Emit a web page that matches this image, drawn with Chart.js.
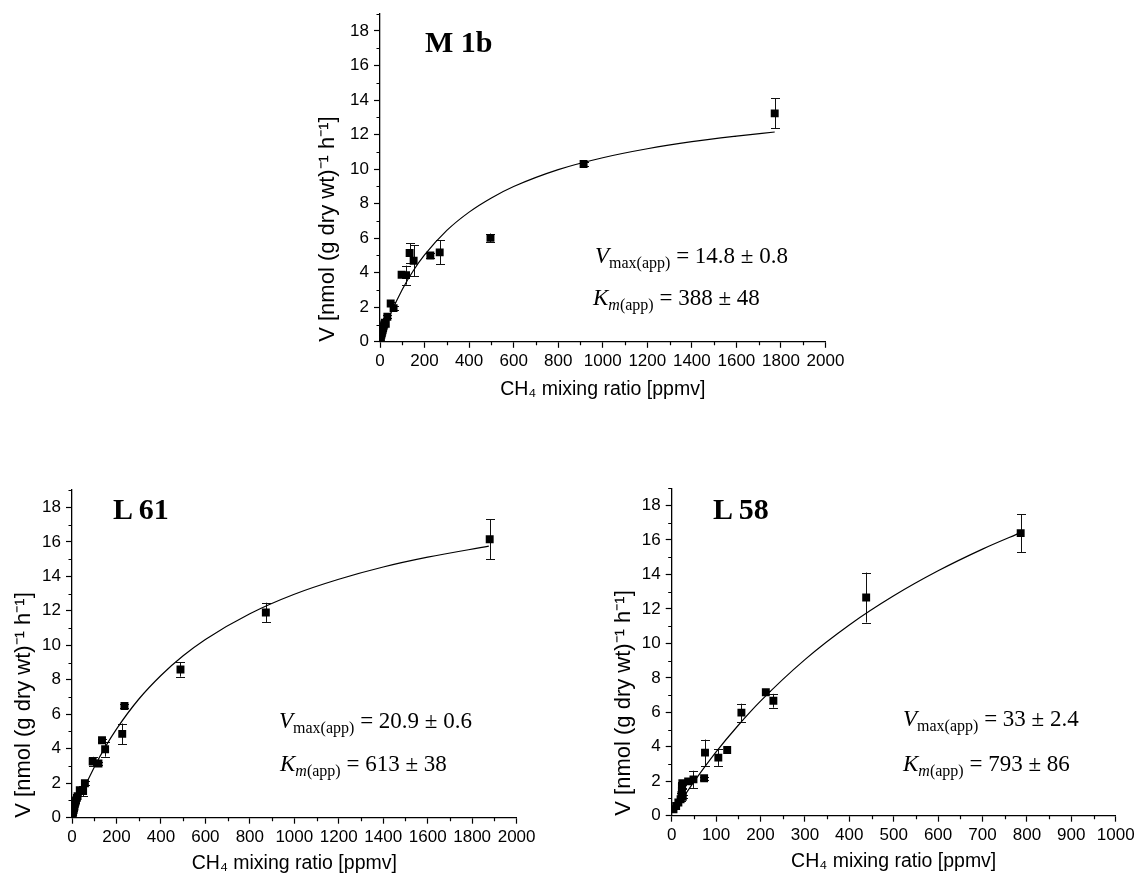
<!DOCTYPE html>
<html><head><meta charset="utf-8">
<script src="https://cdn.jsdelivr.net/npm/chart.js@4.4.1/dist/chart.umd.min.js"></script>
<style>
html,body{margin:0;padding:0;background:#fff;}
body{width:1146px;height:882px;position:relative;overflow:hidden;}
canvas{position:absolute;}
.lbl{position:absolute;font-family:"Liberation Serif","Times New Roman",serif;font-weight:bold;font-size:30px;line-height:30px;color:#000;white-space:nowrap;}
.ann{position:absolute;font-family:"Liberation Serif","Times New Roman",serif;font-size:23px;line-height:23px;color:#000;white-space:nowrap;}
.ann i{font-style:italic;}
.ann sub{font-size:16px;line-height:0;vertical-align:baseline;position:relative;top:5px;}
</style></head><body>
<canvas id="c1"></canvas>
<canvas id="c2"></canvas>
<canvas id="c3"></canvas>
<div class="lbl" style="left:425px;top:27px">M 1b</div>
<div class="lbl" style="left:113px;top:494px">L 61</div>
<div class="lbl" style="left:713px;top:494px">L 58</div>
<div class="ann" style="left:595px;top:244px"><i>V</i><sub>max(app)</sub> = 14.8 ± 0.8</div>
<div class="ann" style="left:593px;top:286px"><i>K</i><sub><i>m</i>(app)</sub> = 388 ± 48</div>
<div class="ann" style="left:279px;top:709px"><i>V</i><sub>max(app)</sub> = 20.9 ± 0.6</div>
<div class="ann" style="left:280px;top:752px"><i>K</i><sub><i>m</i>(app)</sub> = 613 ± 38</div>
<div class="ann" style="left:903px;top:707px"><i>V</i><sub>max(app)</sub> = 33 ± 2.4</div>
<div class="ann" style="left:903px;top:752px"><i>K</i><sub><i>m</i>(app)</sub> = 793 ± 86</div>
<script>
// ---------- data: M 1b ----------
const m1bX   = [2, 4, 6, 8, 10, 12, 14, 16, 19, 22, 26, 33, 48, 61, 97, 117, 133, 151, 226, 268, 496, 914, 1772];
const m1bY   = [0.1, 0.25, 0.4, 0.5, 0.6, 0.7, 0.8, 0.9, 1.0, 1.1, 1.05, 1.45, 2.22, 1.95, 3.88, 3.86, 5.14, 4.69, 5.0, 5.18, 6.02, 10.3, 13.23];
const m1bErr = [0, 0, 0, 0, 0, 0, 0, 0, 0, 0, 0, 0.1, 0.1, 0.1, 0.1, 0.55, 0.57, 0.9, 0.15, 0.7, 0.25, 0.1, 0.87];
const m1bFitX = [5, 25, 50, 100, 150, 200, 300, 400, 500, 600, 800, 1000, 1200, 1400, 1600, 1772];
const m1bFitY = [0.19, 0.9, 1.69, 3.03, 4.13, 5.03, 6.45, 7.51, 8.33, 8.99, 9.97, 10.66, 11.18, 11.59, 11.91, 12.15];

// ---------- data: L 61 ----------
const l61X   = [3, 5, 7, 9, 11, 13, 15, 18, 22, 25, 35, 50, 58, 93, 119, 135, 149, 226, 236, 488, 872, 1879];
const l61Y   = [0.15, 0.3, 0.45, 0.55, 0.65, 0.8, 0.9, 1.0, 1.15, 1.25, 1.6, 1.55, 2.0, 3.26, 3.14, 4.49, 3.97, 4.86, 6.48, 8.6, 11.9, 16.15];
const l61Err = [0, 0, 0, 0, 0, 0, 0, 0, 0, 0, 0.1, 0.3, 0.1, 0.27, 0.1, 0.1, 0.43, 0.6, 0.1, 0.42, 0.57, 1.17];
const l61FitX = [5, 25, 50, 100, 150, 200, 300, 400, 500, 600, 800, 1000, 1200, 1400, 1600, 1875];
const l61FitY = [0.17, 0.82, 1.58, 2.93, 4.11, 5.14, 6.87, 8.25, 9.39, 10.34, 11.83, 12.96, 13.83, 14.54, 15.11, 15.75];

// ---------- data: L 58 ----------
const l58X   = [4, 10, 15, 20, 22, 23, 23, 24, 25, 37, 49, 73, 75, 105, 125, 157, 212, 229, 438, 786];
const l58Y   = [0.37, 0.56, 0.77, 0.95, 1.2, 1.45, 1.68, 1.88, 1.1, 1.99, 2.11, 2.17, 3.66, 3.37, 3.81, 5.98, 7.16, 6.67, 12.66, 16.4];
const l58Err = [0, 0, 0, 0.1, 0.1, 0.1, 0.1, 0.1, 0.1, 0.1, 0.5, 0.1, 0.76, 0.48, 0, 0.52, 0.1, 0.4, 1.45, 1.1];
const l58FitX = [5, 25, 50, 100, 150, 200, 300, 400, 500, 600, 700, 790];
const l58FitY = [0.21, 1.01, 1.96, 3.7, 5.25, 6.65, 9.06, 11.07, 12.76, 14.21, 15.47, 16.47];

// ---------- axis labels ----------
const xTitleText = 'CH\u2084 mixing ratio [ppmv]';
const yTitleText = 'V [nmol (g dry wt)\u207B\u00B9 h\u207B\u00B9]';

const FONT = "'Liberation Sans', Arial, Helvetica, sans-serif";

const errorBars = {
  id: 'errorBars',
  beforeDatasetsDraw(chart) {
    const ds = chart.data.datasets[0];
    const xs = chart.scales.x, ys = chart.scales.y, ctx = chart.ctx;
    ctx.save();
    ctx.strokeStyle = '#111'; ctx.lineWidth = 1;
    ds.data.forEach((p, i) => {
      const e = ds.errors[i];
      if (!e) return;
      const px = Math.round(xs.getPixelForValue(p.x)) + 0.5;
      const y1 = ys.getPixelForValue(p.y - e), y2 = ys.getPixelForValue(p.y + e);
      ctx.beginPath();
      ctx.moveTo(px, y1); ctx.lineTo(px, y2);
      ctx.moveTo(px - 4.5, Math.round(y1) + 0.5); ctx.lineTo(px + 4.5, Math.round(y1) + 0.5);
      ctx.moveTo(px - 4.5, Math.round(y2) + 0.5); ctx.lineTo(px + 4.5, Math.round(y2) + 0.5);
      ctx.stroke();
    });
    ctx.restore();
  }
};

const minorTicks = {
  id: 'minorTicks',
  afterDraw(chart) {
    const o = chart.options.plugins.minorTicks;
    const xs = chart.scales.x, ys = chart.scales.y, ctx = chart.ctx;
    ctx.save();
    ctx.strokeStyle = '#000'; ctx.lineWidth = 1.2;
    ctx.beginPath();
    for (let v = o.x; v < xs.max; v += 2 * o.x) {
      const px = Math.round(xs.getPixelForValue(v)) + 0.5;
      ctx.moveTo(px, xs.top); ctx.lineTo(px, xs.top + 3.5);
    }
    for (let v = o.y; v <= ys.max + 1e-9; v += 2 * o.y) {
      const py = Math.round(ys.getPixelForValue(v)) + 0.5;
      ctx.moveTo(ys.right, py); ctx.lineTo(ys.right - 3.5, py);
    }
    ctx.stroke();
    ctx.restore();
  }
};

function makePanel(id, geo, xs, ys, errs, fitX, fitY, xMax, xStep) {
  const cv = document.getElementById(id);
  cv.width = geo.cw; cv.height = geo.ch;
  cv.style.left = geo.cl + 'px'; cv.style.top = geo.ct + 'px';
  const Wy = geo.L - geo.cl;
  const Hx = geo.ct + geo.ch - geo.B;
  const padTop = geo.T - geo.ct;
  const padRight = geo.cl + geo.cw - geo.R;
  const yFs = 22, yLh = yFs * 1.2;
  const yTitlePad = geo.yTitleCX - geo.cl - yLh / 2;
  const xFs = 19.5, xLh = xFs * 1.2;
  const xMid = geo.xTitleBase - 0.36 * xFs;
  const xTitlePadBottom = (geo.ct + geo.ch) - xMid - xLh / 2;
  const fmt = v => String(v);

  return new Chart(cv, {
    type: 'scatter',
    data: {
      datasets: [
        {
          label: 'data',
          data: xs.map((x, i) => ({ x: x, y: ys[i] })),
          errors: errs,
          pointStyle: 'rect', pointRadius: 5.6, pointHoverRadius: 5.6,
          pointBackgroundColor: '#000', pointBorderColor: '#000', pointBorderWidth: 0,
          showLine: false, order: 0
        },
        {
          label: 'fit',
          data: fitX.map((x, i) => ({ x: x, y: fitY[i] })),
          showLine: true, borderColor: '#000', borderWidth: 1.2,
          pointRadius: 0, pointHoverRadius: 0, fill: false,
          cubicInterpolationMode: 'monotone', order: 1
        }
      ]
    },
    options: {
      responsive: false, animation: false, devicePixelRatio: 1,
      events: [],
      layout: { padding: { left: 0, top: padTop, right: padRight, bottom: 0 } },
      plugins: { legend: { display: false }, tooltip: { enabled: false }, minorTicks: { x: xStep / 2, y: 1 } },
      scales: {
        x: {
          type: 'linear', position: 'bottom', min: 0, max: xMax,
          ticks: { stepSize: xStep, callback: fmt, color: '#000', font: { family: FONT, size: 17 }, padding: 3, maxRotation: 0, autoSkip: false },
          grid: { drawOnChartArea: false, drawTicks: true, tickLength: 6, tickColor: '#000', tickWidth: 1.2 },
          border: { display: true, color: '#000', width: 1.3 },
          title: { display: true, text: xTitleText, color: '#000', font: { family: FONT, size: xFs, lineHeight: 1.2 }, padding: { top: 0, bottom: xTitlePadBottom } },
          afterFit(s) { s.height = Hx; s.paddingLeft = 0; s.paddingRight = 0; }
        },
        y: {
          type: 'linear', position: 'left', min: 0, max: 19,
          ticks: { stepSize: 2, includeBounds: false, callback: fmt, color: '#000', font: { family: FONT, size: 17 }, padding: 5 },
          grid: { drawOnChartArea: false, drawTicks: true, tickLength: 6, tickColor: '#000', tickWidth: 1.2 },
          border: { display: true, color: '#000', width: 1.3 },
          title: { display: true, text: yTitleText, align: 'start', color: '#000', font: { family: FONT, size: yFs, lineHeight: 1.2 }, padding: { top: yTitlePad, bottom: 0 } },
          afterFit(s) { s.width = Wy; s.paddingTop = 0; s.paddingBottom = 0; }
        }
      }
    },
    plugins: [errorBars, minorTicks]
  });
}

makePanel('c1', { cl: 290, ct: 0, cw: 576, ch: 417, L: 380, R: 825.5, T: 13.7, B: 341.8, yTitleCX: 327.5, xTitleBase: 396.7 },
  m1bX, m1bY, m1bErr, m1bFitX, m1bFitY, 2000, 200);
makePanel('c2', { cl: 0, ct: 450, cw: 557, ch: 432, L: 72, R: 516.6, T: 490.1, B: 817.7, yTitleCX: 24, xTitleBase: 870.6 },
  l61X, l61Y, l61Err, l61FitX, l61FitY, 2000, 200);
makePanel('c3', { cl: 590, ct: 450, cw: 556, ch: 432, L: 671.7, R: 1115.7, T: 488.3, B: 815.7, yTitleCX: 624, xTitleBase: 868.3 },
  l58X, l58Y, l58Err, l58FitX, l58FitY, 1000, 100);
</script>
</body></html>
